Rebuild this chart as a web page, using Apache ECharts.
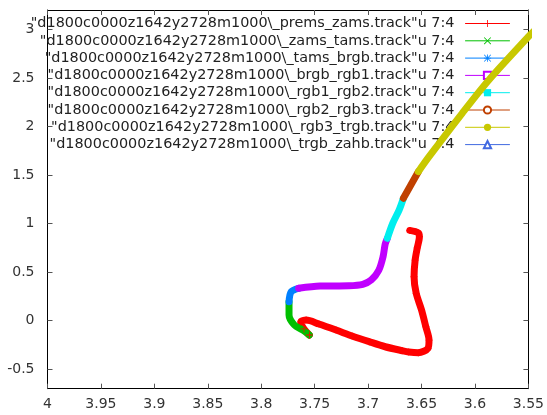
<!DOCTYPE html>
<html>
<head>
<meta charset="utf-8">
<script src="https://cdn.jsdelivr.net/npm/echarts@6/dist/echarts.min.js"></script>
<style>
	html, body { margin: 0; padding: 0; background: #fff; }
	#main { width: 547px; height: 415px; }
</style>
</head>
<body>
<div id="main"></div>
<script>
	var names = [
		'"d1800c0000z1642y2728m1000\\_prems_zams.track"u 7:4',
		'"d1800c0000z1642y2728m1000\\_zams_tams.track"u 7:4',
		'"d1800c0000z1642y2728m1000\\_tams_brgb.track"u 7:4',
		'"d1800c0000z1642y2728m1000\\_brgb_rgb1.track"u 7:4',
		'"d1800c0000z1642y2728m1000\\_rgb1_rgb2.track"u 7:4',
		'"d1800c0000z1642y2728m1000\\_rgb2_rgb3.track"u 7:4',
		'"d1800c0000z1642y2728m1000\\_rgb3_trgb.track"u 7:4',
		'"d1800c0000z1642y2728m1000\\_trgb_zahb.track"u 7:4'
	];
	var colors = ['#ff0000', '#00c000', '#0080ff', '#c000ff', '#00eeee', '#c04000', '#c8c800', '#4169e1'];

	var xTicks = [4, 3.95, 3.9, 3.85, 3.8, 3.75, 3.7, 3.65, 3.6, 3.55];
	var yTicks = [-0.5, 0, 0.5, 1, 1.5, 2, 2.5, 3];

	// log Teff, log L
	var premsZams = [[3.661, 0.93], [3.653, 0.905], [3.652, 0.865], [3.654, 0.75], [3.656, 0.625], [3.657, 0.453],
		[3.655, 0.282], [3.650, 0.110], [3.646, -0.062], [3.643, -0.199], [3.644, -0.284], [3.653, -0.329],
		[3.662, -0.322], [3.668, -0.309], [3.684, -0.268], [3.699, -0.216], [3.715, -0.157], [3.730, -0.096],
		[3.746, -0.034], [3.758, 0.007], [3.763, -0.013], [3.760, -0.085], [3.755, -0.147]];
	var zamsTams = [[3.755, -0.147], [3.761, -0.096], [3.769, -0.044], [3.774, 0.059], [3.774, 0.196]];
	var tamsBrgb = [[3.774, 0.196], [3.772, 0.299], [3.765, 0.334]];
	var brgbRgb1 = [[3.765, 0.334], [3.745, 0.357], [3.718, 0.360], [3.705, 0.375], [3.697, 0.42], [3.690, 0.52],
		[3.686, 0.66], [3.684, 0.79], [3.682, 0.849]];
	var rgb1Rgb2 = [[3.682, 0.849], [3.677, 1.003], [3.671, 1.14], [3.667, 1.261]];
	var rgb2Rgb3 = [[3.667, 1.261], [3.660, 1.398], [3.653, 1.535]];
	var rgb3Trgb = [[3.653, 1.535], [3.643, 1.689], [3.612, 2.136], [3.587, 2.479], [3.550, 2.925], [3.545, 2.98]];
	var trgbZahb = [];

	var tracks = [premsZams, zamsTams, tamsBrgb, brgbRgb1, rgb1Rgb2, rgb2Rgb3, rgb3Trgb, trgbZahb];

	var plus = 'path://M4,0H5V9H4Z M0,4H9V5H0Z';
	var cross = 'path://M0,0.7L0.7,0L9,8.3L8.3,9Z M8.3,0L9,0.7L0.7,9L0,8.3Z';
	var star = 'path://M4,0H5V9H4Z M0,4H9V5H0Z M0,0.7L0.7,0L9,8.3L8.3,9Z M8.3,0L9,0.7L0.7,9L0,8.3Z';
	var symbols = [plus, cross, star, 'emptyRect', 'rect', 'emptyCircle', 'circle', 'emptyTriangle'];

	var font = 'DejaVu Sans';
	var chart = echarts.init(document.getElementById('main'));

	function axisBase(show) {
		return {
			type: 'value',
			axisLine: { show: true, onZero: false, lineStyle: { color: '#000', width: 1 } },
			axisTick: { show: true, inside: true, length: 5, lineStyle: { color: '#555' } },
			axisLabel: { show: show, color: '#333', fontFamily: font, fontSize: 14 },
			splitLine: { show: false }
		};
	}

	var xBottom = axisBase(true);
	xBottom.position = 'bottom';
	xBottom.min = 3.55; xBottom.max = 4; xBottom.inverse = true;
	xBottom.axisTick.customValues = xTicks;
	xBottom.axisLabel.customValues = xTicks;
	xBottom.axisLabel.margin = 9;
	xBottom.axisLabel.formatter = function (v) { return String(+v.toFixed(2)); };

	var xTop = axisBase(false);
	xTop.position = 'top';
	xTop.min = 3.55; xTop.max = 4; xTop.inverse = true;
	xTop.axisTick.customValues = xTicks;

	var yLeft = axisBase(true);
	yLeft.position = 'left';
	yLeft.min = -0.7; yLeft.max = 3.2;
	yLeft.axisTick.customValues = yTicks;
	yLeft.axisLabel.customValues = yTicks;
	yLeft.axisLabel.margin = 13;
	yLeft.axisLabel.formatter = function (v) { return String(+v.toFixed(2)); };

	var yRight = axisBase(false);
	yRight.position = 'right';
	yRight.min = -0.7; yRight.max = 3.2;
	yRight.axisTick.customValues = yTicks;

	var series = [];
	var legendData = [];
	for (var i = 0; i < names.length; i++) {
		series.push({
			name: names[i],
			type: 'line',
			xAxisIndex: 0,
			yAxisIndex: 0,
			data: tracks[i],
			smooth: 0.3,
			symbol: symbols[i],
			symbolSize: 7,
			showSymbol: i === 0,
			color: colors[i],
			itemStyle: { color: colors[i] },
			lineStyle: { color: colors[i], width: 7, cap: 'round', join: 'round' },
			animation: false,
			z: 3
		});
		legendData.push({
			name: names[i],
			itemStyle: { color: colors[i] },
			lineStyle: { color: colors[i], width: 1 }
		});
	}

	option = {
		backgroundColor: '#fff',
		animation: false,
		grid: { left: 47.5, right: 17, top: 10, bottom: 26.3, containLabel: false },
		xAxis: [xBottom, xTop],
		yAxis: [yLeft, yRight],
		legend: {
			orient: 'vertical',
			align: 'right',
			right: 37,
			top: 15,
			padding: 0,
			itemGap: 0.3,
			itemWidth: 44,
			itemHeight: 9,
			z: 1,
			selectedMode: false,
			lineStyle: { width: 1 },
			textStyle: { fontFamily: font, fontSize: 14.4, color: '#222', lineHeight: 17, padding: [0, 6, 0, 0] },
			data: legendData
		},
		series: series
	};
	chart.setOption(option);
</script>
</body>
</html>
